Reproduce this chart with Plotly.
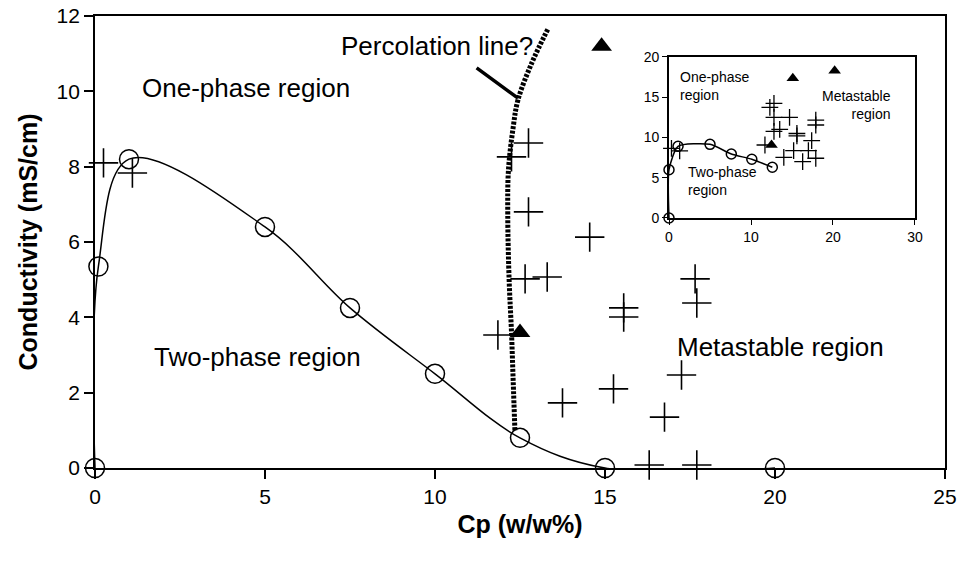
import plotly.graph_objects as go

# ---------------- data: main chart ----------------
circ_x = [0, 0.1, 1, 5, 7.5, 10, 12.5, 15, 20]
circ_y = [0, 5.35, 8.2, 6.4, 4.25, 2.5, 0.8, 0, 0]

plus_x = [0.25, 1.1, 12.75, 12.25, 12.75, 14.55, 12.65, 13.3, 17.65, 17.7,
          15.55, 15.55, 11.85, 17.25, 15.25, 13.75, 16.75, 16.3, 17.7]
plus_y = [8.1, 7.83, 8.63, 8.26, 6.8, 6.13, 5.02, 5.07, 5.02, 4.38,
          4.25, 4.01, 3.53, 2.47, 2.1, 1.73, 1.35, 0.08, 0.08]

tri_x = [12.5, 14.9]
tri_y = [3.6, 11.2]

perc_x = [12.35, 12.3, 12.25, 12.18, 12.14, 12.16, 12.3, 12.44, 12.84, 13.33]
perc_y = [1.0, 2.3, 3.6, 5.0, 6.7, 7.9, 9.05, 9.77, 10.74, 11.67]

x_ticks = [0, 5, 10, 15, 20, 25]
y_ticks = [0, 2, 4, 6, 8, 10, 12]

# ---------------- data: inset ----------------
in_circ_x = [0, 0, 1.1, 5, 7.6, 10.1, 12.6]
in_circ_y = [0, 6, 8.9, 9.15, 7.95, 7.3, 6.3]

in_plus_x = [0.3, 1.3, 12.3, 12.8, 12.8, 14.7, 12.8, 13.5, 15.6, 15.6, 11.7,
             15.2, 17.0, 14.0, 17.4, 16.3, 17.9, 17.9, 17.9]
in_plus_y = [8.65, 8.35, 13.75, 14.25, 12.5, 12.5, 10.75, 11.0, 10.5, 10.2, 9.07,
             8.36, 8.36, 7.54, 9.6, 7.0, 7.42, 12.17, 11.55]

in_tri_x = [15.1, 20.2, 12.5]
in_tri_y = [17.35, 18.3, 9.07]

in_x_ticks = [0, 10, 20, 30]
in_y_ticks = [0, 5, 10, 15, 20]

FONT = "Liberation Sans, Arial, sans-serif"
BLACK = "black"

fig = go.Figure()

# ---- main chart ----
fig.add_trace(go.Scatter(x=circ_x, y=circ_y, mode="lines",
                         line=dict(color=BLACK, width=1.5, shape="spline", smoothing=1.0),
                         hoverinfo="skip", showlegend=False))
fig.add_trace(go.Scatter(x=perc_x, y=perc_y, mode="lines",
                         line=dict(color=BLACK, width=5, shape="spline", dash="3px,1.5px"),
                         hoverinfo="skip", showlegend=False))
fig.add_trace(go.Scatter(x=circ_x, y=circ_y, mode="markers", cliponaxis=False,
                         marker=dict(symbol="circle-open", size=19, color=BLACK,
                                     line=dict(width=1.5, color=BLACK)),
                         showlegend=False))
fig.add_trace(go.Scatter(x=plus_x, y=plus_y, mode="markers", cliponaxis=False,
                         marker=dict(symbol="cross-thin", size=21, color=BLACK,
                                     line=dict(width=1.6, color=BLACK)),
                         showlegend=False))
fig.add_trace(go.Scatter(x=tri_x, y=tri_y, mode="markers", cliponaxis=False,
                         marker=dict(symbol="triangle-up", size=18, color=BLACK),
                         showlegend=False))

# ---- inset ----
fig.add_trace(go.Scatter(x=in_circ_x, y=in_circ_y, mode="lines", xaxis="x2", yaxis="y2",
                         line=dict(color=BLACK, width=1.5, shape="spline", smoothing=0.6),
                         hoverinfo="skip", showlegend=False))
fig.add_trace(go.Scatter(x=in_circ_x, y=in_circ_y, mode="markers", xaxis="x2", yaxis="y2",
                         cliponaxis=False,
                         marker=dict(symbol="circle-open", size=10, color=BLACK,
                                     line=dict(width=1.5, color=BLACK)),
                         showlegend=False))
fig.add_trace(go.Scatter(x=in_plus_x, y=in_plus_y, mode="markers", xaxis="x2", yaxis="y2",
                         cliponaxis=False,
                         marker=dict(symbol="cross-thin", size=12, color=BLACK,
                                     line=dict(width=1.3, color=BLACK)),
                         showlegend=False))
fig.add_trace(go.Scatter(x=in_tri_x, y=in_tri_y, mode="markers", xaxis="x2", yaxis="y2",
                         cliponaxis=False,
                         marker=dict(symbol="triangle-up", size=11, color=BLACK),
                         showlegend=False))

axis_common = dict(showgrid=False, zeroline=False, showline=True, linecolor=BLACK,
                   ticks="outside", tickcolor=BLACK, mirror=True, automargin=False)

annotations = [
    dict(text="Percolation line?", x=10.06, y=11.2, xref="x", yref="y", showarrow=False,
         font=dict(size=26, color=BLACK, family=FONT)),
    dict(text="One-phase region", x=4.43, y=10.08, xref="x", yref="y", showarrow=False,
         font=dict(size=26, color=BLACK, family=FONT)),
    dict(text="Two-phase region", x=4.78, y=2.95, xref="x", yref="y", showarrow=False,
         font=dict(size=26, color=BLACK, family=FONT)),
    dict(text="Metastable region", x=20.15, y=3.22, xref="x", yref="y", showarrow=False,
         font=dict(size=26, color=BLACK, family=FONT)),
    # pointer from label to percolation line
    dict(text="", x=12.44, y=9.82, ax=11.18, ay=10.65, xref="x", yref="y",
         axref="x", ayref="y", showarrow=True, arrowhead=0, arrowwidth=3.5,
         arrowcolor=BLACK, standoff=0, startstandoff=0),
    # inset labels
    dict(text="One-phase<br>region", x=1.1, y=16.4, xref="x2", yref="y2", showarrow=False,
         xanchor="left", align="left", font=dict(size=14, color=BLACK, family=FONT)),
    dict(text="Metastable<br>region", x=27.3, y=14.0, xref="x2", yref="y2", showarrow=False,
         xanchor="right", align="right", font=dict(size=14, color=BLACK, family=FONT)),
    dict(text="Two-phase<br>region", x=2.1, y=4.6, xref="x2", yref="y2", showarrow=False,
         xanchor="left", align="left", font=dict(size=14, color=BLACK, family=FONT)),
]

fig.update_layout(
    width=959, height=568,
    margin=dict(l=95, r=14, t=16, b=100, autoexpand=False),
    paper_bgcolor="white", plot_bgcolor="white",
    font=dict(family=FONT, color=BLACK),
    xaxis=dict(range=[0, 25], tickvals=x_ticks, ticklen=9, tickwidth=1.5, linewidth=1.8,
               tickfont=dict(size=21), domain=[0, 1],
               title=dict(text="<b>Cp (w/w%)</b>", font=dict(size=25), standoff=8),
               **axis_common),
    yaxis=dict(range=[0, 12], tickvals=y_ticks, ticklen=9, tickwidth=1.5, linewidth=1.8,
               tickfont=dict(size=21), domain=[0, 1],
               title=dict(text="<b>Conductivity (mS/cm)</b>", font=dict(size=25), standoff=12),
               **axis_common),
    xaxis2=dict(range=[0, 30], tickvals=in_x_ticks, ticklen=5, tickwidth=1.2, linewidth=1.8,
                tickfont=dict(size=14), domain=[0.6753, 0.9647], anchor="y2",
                **axis_common),
    yaxis2=dict(range=[0, 20], tickvals=in_y_ticks, ticklen=5, tickwidth=1.2, linewidth=1.8,
                tickfont=dict(size=14), domain=[0.5531, 0.9093], anchor="x2",
                **axis_common),
    annotations=annotations,
)

fig.write_html("out.html")
